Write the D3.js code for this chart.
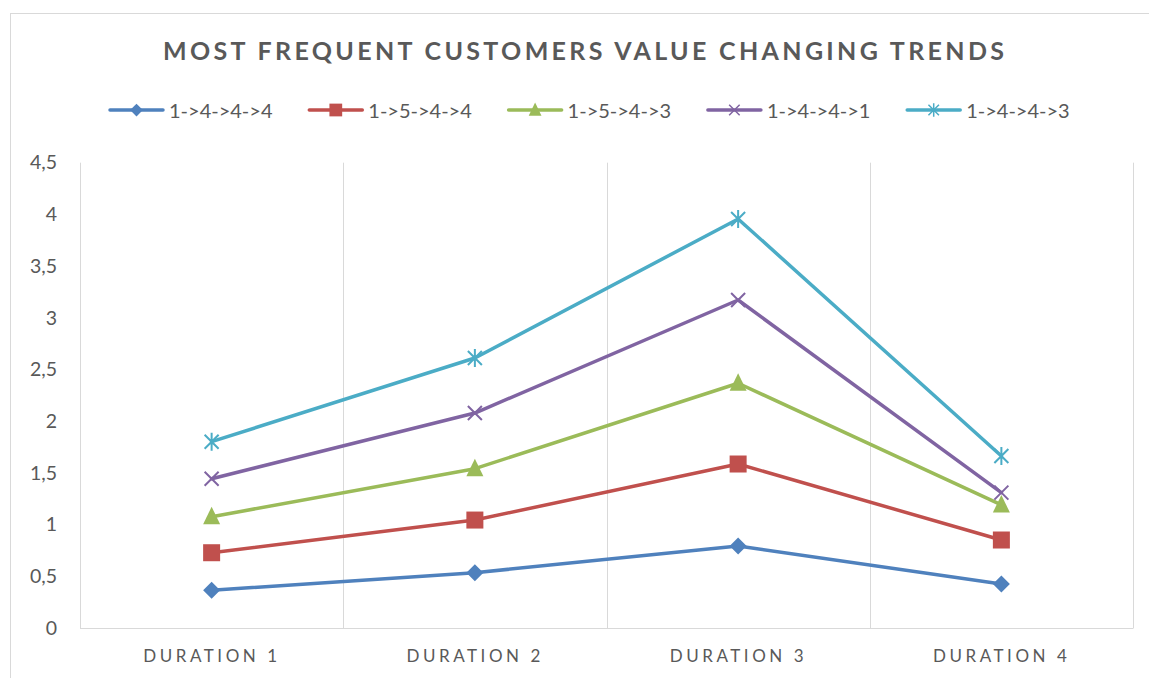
<!DOCTYPE html>
<html><head><meta charset="utf-8">
<script src="https://cdn.jsdelivr.net/npm/d3@7"></script>
<style>body{margin:0;background:#fff}svg{display:block}</style>
</head><body><svg id="c" width="1149" height="678"></svg>
<script>
const categories = ["DURATION 1","DURATION 2","DURATION 3","DURATION 4"];
const seriesNames = ["1->4->4->4","1->5->4->4","1->5->4->3","1->4->4->1","1->4->4->3"];
const s1 = [0.365,0.535,0.793,0.426];
const s2 = [0.363,0.509,0.793,0.425];
const s3 = [0.348,0.497,0.781,0.339];
const s4 = [0.368,0.538,0.805,0.119];
const s5 = [0.358,0.532,0.784,0.354];
const yTicks = [0,0.5,1,1.5,2,2.5,3,3.5,4,4.5];
const colors = ["#4f81bd","#c0504d","#9bbb59","#8064a2","#4bacc6"];
const markerTypes = ["diamond","square","triangle","x","star"];

const allSeries = [s1,s2,s3,s4,s5];
const table = categories.map((c,i)=>{
  const row = {cat:c};
  seriesNames.forEach((n,j)=>row[n]=allSeries[j][i]);
  return row;
});
const stacked = d3.stack().keys(seriesNames)(table);

const svg = d3.select("#c");
const FONT = "Lato, 'Open Sans', sans-serif";
const TXT = "#595959";
const GRID = "#d9d9d9";

// outer border
svg.append("rect").attr("x",10.5).attr("y",13.5).attr("width",1400).attr("height",900)
  .attr("fill","none").attr("stroke",GRID);

const x = d3.scaleBand().domain(categories).range([80,1133]);
const y = d3.scaleLinear().domain([0,4.5]).range([628,162.7]);
const cx = c => x(c) + x.bandwidth()/2;

// vertical gridlines at category boundaries
svg.append("g").selectAll("line").data(categories).join("line")
  .attr("x1",d=>Math.round(x(d)+x.bandwidth())+0.5).attr("x2",d=>Math.round(x(d)+x.bandwidth())+0.5)
  .attr("y1",y(4.5)).attr("y2",y(0)).attr("stroke",GRID).attr("stroke-width",1);
// left axis line
svg.append("line").attr("x1",80.5).attr("x2",80.5).attr("y1",y(4.5)).attr("y2",y(0)).attr("stroke",GRID);
// bottom axis line
svg.append("line").attr("x1",80).attr("x2",1133.5).attr("y1",y(0)+0.5).attr("y2",y(0)+0.5).attr("stroke",GRID);

// y axis
const loc = d3.formatLocale({decimal:",",thousands:".",grouping:[3],currency:["",""]});
const yAxis = d3.axisLeft(y).tickValues(yTicks).tickSize(0).tickPadding(23).tickFormat(loc.format("~g"));
const gy = svg.append("g").attr("transform","translate(80,0)").call(yAxis);
gy.select(".domain").remove();
gy.selectAll("text").attr("font-family",FONT).attr("font-size",19.5).attr("fill",TXT);

// x axis
const xAxis = d3.axisBottom(x).tickSize(0).tickPadding(22);
const gx = svg.append("g").attr("transform",`translate(0,${y(0)})`).call(xAxis);
gx.select(".domain").remove();
gx.selectAll("text").attr("font-family",FONT).attr("font-size",17).attr("fill",TXT)
  .attr("letter-spacing","3px").attr("textLength",137).attr("lengthAdjust","spacing");

// title
svg.append("text").attr("x",585).attr("y",60).attr("text-anchor","middle")
  .attr("font-family",FONT).attr("font-weight","bold").attr("font-size",25).attr("fill",TXT)
  .attr("letter-spacing","3px").attr("textLength",844).attr("lengthAdjust","spacing")
  .text("MOST FREQUENT CUSTOMERS VALUE CHANGING TRENDS");

function drawMarker(g, type, color){
  if(type==="diamond"){
    g.append("path").attr("d","M0,-8.5L8.5,0L0,8.5L-8.5,0Z").attr("fill",color);
  } else if(type==="square"){
    g.append("rect").attr("x",-8.5).attr("y",-8.5).attr("width",17).attr("height",17).attr("fill",color);
  } else if(type==="triangle"){
    g.append("path").attr("d","M0,-10L8.5,7.5L-8.5,7.5Z").attr("fill",color);
  } else if(type==="x"){
    g.append("path").attr("d","M-7,-7L7,7M7,-7L-7,7").attr("stroke",color).attr("stroke-width",2).attr("fill","none");
  } else if(type==="star"){
    g.append("path").attr("d","M-7,-7L7,7M7,-7L-7,7M0,-9L0,9").attr("stroke",color).attr("stroke-width",2).attr("fill","none");
  }
}

const line = d3.line().x(d=>cx(d.data.cat)).y(d=>y(d[1]));
stacked.forEach((s,j)=>{
  const g = svg.append("g");
  g.append("path").datum(s).attr("d",line).attr("fill","none").attr("stroke",colors[j])
    .attr("stroke-width",3.5).attr("stroke-linejoin","round").attr("stroke-linecap","round");
  s.forEach(d=>{
    const m = g.append("g").attr("transform",`translate(${cx(d.data.cat)},${y(d[1])})`);
    drawMarker(m, markerTypes[j], colors[j]);
  });
});

// legend
const leg = svg.append("g");
seriesNames.forEach((n,j)=>{
  const x0 = 110 + j*199.3;
  const g = leg.append("g").attr("transform",`translate(${x0},110)`);
  g.append("line").attr("x1",0).attr("x2",53).attr("y1",0).attr("y2",0)
    .attr("stroke",colors[j]).attr("stroke-width",3.5).attr("stroke-linecap","round");
  const m = g.append("g").attr("transform","translate(26.5,0) scale(0.75)");
  drawMarker(m, markerTypes[j], colors[j]);
  g.append("text").attr("x",59).attr("y",7.5).attr("font-family",FONT).attr("font-size",20)
    .attr("fill",TXT).text(n);
});
</script></body></html>
